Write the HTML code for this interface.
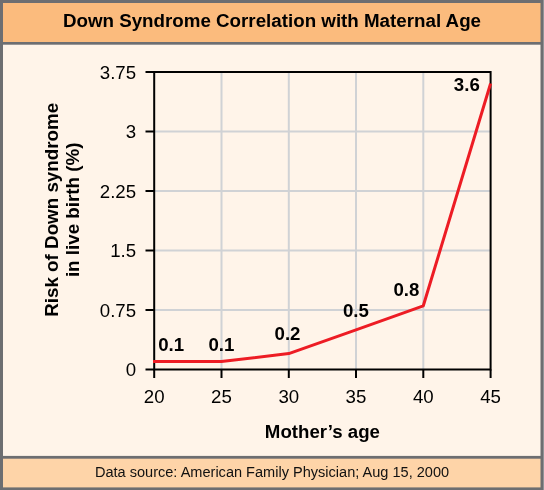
<!DOCTYPE html>
<html><head><meta charset="utf-8">
<style>
html,body{margin:0;padding:0;background:#6d6e71;}
body{width:544px;height:490px;overflow:hidden;position:relative;}
svg{display:block;position:absolute;left:0;top:0;will-change:transform;}
text{font-family:"Liberation Sans",sans-serif;}
</style></head><body>
<svg width="544" height="490" viewBox="0 0 544 490" xmlns="http://www.w3.org/2000/svg">
<rect x="0" y="0" width="544" height="490" fill="#6d6e71"/>
<rect x="543" y="0" width="1" height="490" fill="#929497"/>
<rect x="3" y="3" width="537.5" height="39" fill="#fbbb7d"/>
<rect x="3" y="44.7" width="537.5" height="411.2" fill="#fff4e9"/>
<rect x="3" y="458.7" width="537.5" height="28.7" fill="#fed4a8"/>
<text x="272" y="27.4" text-anchor="middle" font-size="18.75" font-weight="bold" fill="#000">Down Syndrome Correlation with Maternal Age</text>
<g stroke="#d0d2d5" stroke-width="2" fill="none">
<line x1="221.5" y1="72" x2="221.5" y2="369.5"/>
<line x1="288.8" y1="72" x2="288.8" y2="369.5"/>
<line x1="356" y1="72" x2="356" y2="369.5"/>
<line x1="423.3" y1="72" x2="423.3" y2="369.5"/>
<line x1="154.2" y1="131.6" x2="490.6" y2="131.6"/>
<line x1="154.2" y1="191" x2="490.6" y2="191"/>
<line x1="154.2" y1="250.5" x2="490.6" y2="250.5"/>
<line x1="154.2" y1="310" x2="490.6" y2="310"/>
</g>
<g stroke="#000" stroke-width="2" fill="none">
<rect x="154.2" y="72" width="336.4" height="297.5"/>
<line x1="145.5" y1="72" x2="154.2" y2="72"/>
<line x1="145.5" y1="131.5" x2="154.2" y2="131.5"/>
<line x1="145.5" y1="191" x2="154.2" y2="191"/>
<line x1="145.5" y1="250.5" x2="154.2" y2="250.5"/>
<line x1="145.5" y1="310" x2="154.2" y2="310"/>
<line x1="145.5" y1="369.5" x2="154.2" y2="369.5"/>
<line x1="154.2" y1="369.5" x2="154.2" y2="378"/>
<line x1="221.5" y1="369.5" x2="221.5" y2="378"/>
<line x1="288.8" y1="369.5" x2="288.8" y2="378"/>
<line x1="356" y1="369.5" x2="356" y2="378"/>
<line x1="423.3" y1="369.5" x2="423.3" y2="378"/>
<line x1="490.6" y1="369.5" x2="490.6" y2="378"/>
</g>
<polyline points="153,361.6 221.5,361.6 288.8,353.6 356,329.8 423.3,305.8 490.6,83.5" stroke="#ed1c24" stroke-width="3" fill="none" stroke-linejoin="round"/>
<g font-size="18.67" fill="#000" text-anchor="end" transform="translate(0.9,-0.3)">
<text x="135.2" y="79.3">3.75</text>
<text x="135.2" y="138.8">3</text>
<text x="135.2" y="198.3">2.25</text>
<text x="135.2" y="257.8">1.5</text>
<text x="135.2" y="317.3">0.75</text>
<text x="135.2" y="376.8">0</text>
</g>
<g font-size="18.67" fill="#000" text-anchor="middle" transform="translate(0,0.4)">
<text x="154.2" y="402.4">20</text>
<text x="221.5" y="402.4">25</text>
<text x="288.8" y="402.4">30</text>
<text x="356" y="402.4">35</text>
<text x="423.3" y="402.4">40</text>
<text x="490.6" y="402.4">45</text>
</g>
<g font-size="18.67" font-weight="bold" fill="#000" text-anchor="middle">
<text x="171.1" y="350.8">0.1</text>
<text x="221.4" y="350.9">0.1</text>
<text x="287.5" y="339.5">0.2</text>
<text x="355.9" y="317.2">0.5</text>
<text x="406.4" y="295.6">0.8</text>
<text x="466.8" y="91.4">3.6</text>
</g>
<text x="322.4" y="438.4" text-anchor="middle" font-size="18.67" font-weight="bold" fill="#000">Mother’s age</text>
<g transform="translate(57.8,209.8) rotate(-90)">
<text x="0" y="0" text-anchor="middle" font-size="18.8" font-weight="bold" fill="#000">Risk of Down syndrome</text>
<text x="0" y="20.9" text-anchor="middle" font-size="18.8" font-weight="bold" fill="#000">in live birth (%)</text>
</g>
<text x="272" y="477.2" text-anchor="middle" font-size="14.55" fill="#111">Data source: American Family Physician; Aug 15, 2000</text>
</svg>
</body></html>
